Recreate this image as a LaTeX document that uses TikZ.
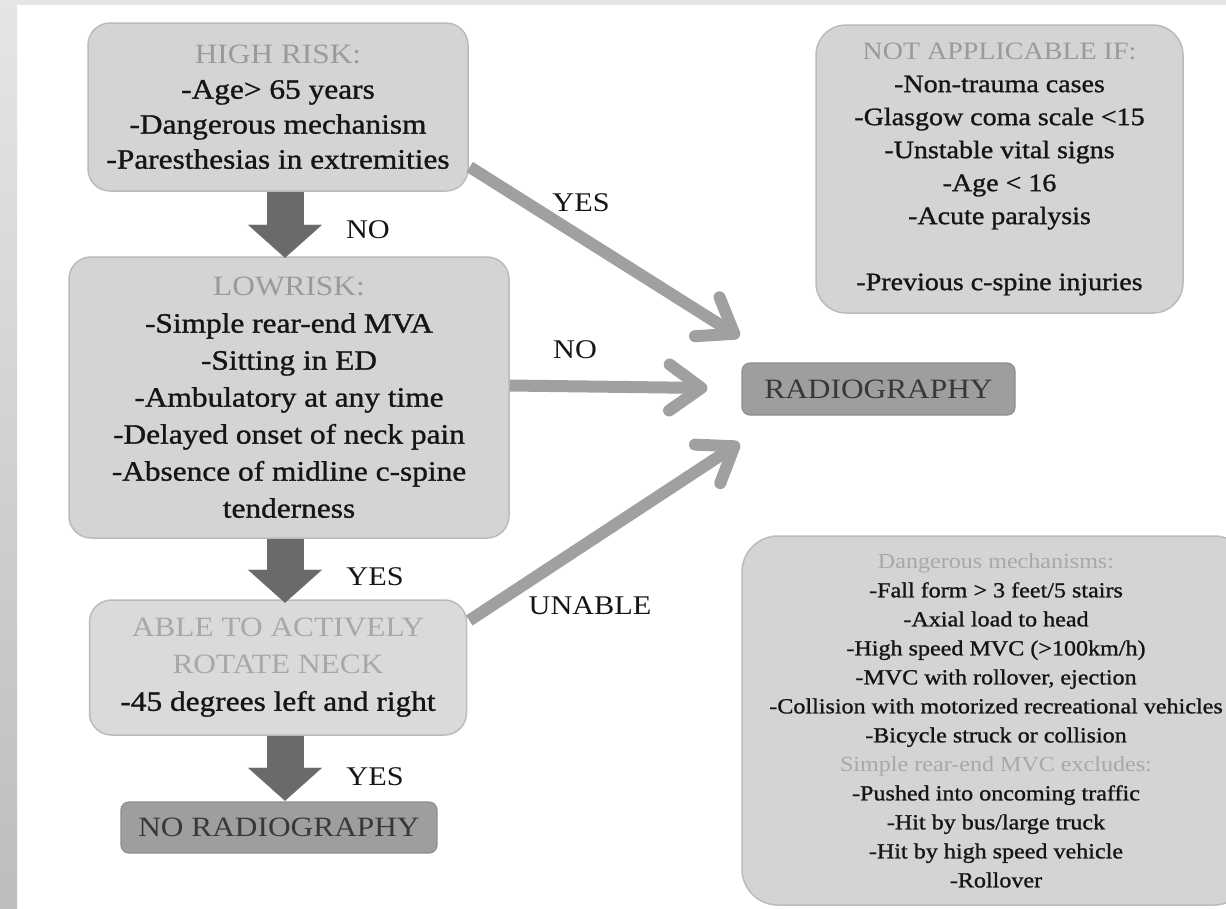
\documentclass[tikz,border=0pt]{standalone}
\usepackage{fontspec}
\setmainfont{Liberation Serif}[FakeStretch=1.12]
\newfontfamily\heavyserif{Liberation Serif}[FakeStretch=1.12,FakeBold=1.1]
\usetikzlibrary{arrows.meta,calc}

\definecolor{framegray}{HTML}{E5E5E5}
\definecolor{framedark}{HTML}{BDBDBD}
\definecolor{boxfill}{HTML}{D4D4D4}
\definecolor{boxfilllight}{HTML}{DADADA}
\definecolor{boxedge}{HTML}{BBBBBB}
\definecolor{endfill}{HTML}{9E9E9E}
\definecolor{endedge}{HTML}{8E8E8E}
\definecolor{titlegray}{HTML}{9A9A9A}
\definecolor{titlelight}{HTML}{A8A8A8}
\definecolor{bodyblack}{HTML}{151515}
\definecolor{arrowdark}{HTML}{6A6A6A}
\definecolor{arrowgray}{HTML}{A0A0A0}

\newcommand\boxtitle[2]{{\rmfamily\color{#1}#2}}

\tikzset{
  infobox/.style={draw=boxedge, line width=1.5pt, fill=boxfill, rounded corners=22pt,
    align=center, text=bodyblack, inner sep=0pt},
  endbox/.style={draw=endedge, line width=1.2pt, fill=endfill, rounded corners=8pt,
    align=center, text=bodyblack!85, inner sep=0pt, font=\fontsize{28}{34}\selectfont},
  answer/.style={text=bodyblack, inner sep=0pt, font=\fontsize{27}{32}\selectfont},
  bigarrow/.style={draw=arrowdark, line width=37pt,
    -{Triangle[length=33pt,width=74pt,line width=0.1pt]}},
  thinarrow/.style={draw=arrowgray, line width=12pt,
    -{Straight Barb[length=32pt,width=46pt,round]}}
}

\begin{document}
\begin{tikzpicture}[x=1pt,y=-1pt]
\useasboundingbox (0,0) rectangle (1226,908);
% page frame
\fill[white] (0,0) rectangle (1226,908);
\fill[framegray] (0,0) rectangle (1226,5);
\shade[top color=framegray, bottom color=framedark] (0,0) rectangle (17,908);

\begin{scope}
\clip (0,0) rectangle (1226,908);

% decision boxes on the left
\node[infobox, minimum width=380pt, minimum height=168pt,
      font=\heavyserif\fontsize{28}{35}\selectfont] (hr) at (278,107)
  {\boxtitle{titlegray}{HIGH RISK:}\\-Age> 65 years\\-Dangerous mechanism\\-Paresthesias in extremities};

\node[infobox, minimum width=440pt, minimum height=281pt,
      font=\heavyserif\fontsize{28}{37}\selectfont] (lr) at (289,397.5)
  {\boxtitle{titlegray}{LOWRISK:}\\-Simple rear-end MVA\\-Sitting in ED\\-Ambulatory at any time\\-Delayed onset of neck pain\\-Absence of midline c-spine\\tenderness};

\node[infobox, fill=boxfilllight, minimum width=377pt, minimum height=135pt,
      font=\heavyserif\fontsize{28}{37}\selectfont] (ab) at (278,667.5)
  {\boxtitle{titlelight}{ABLE TO ACTIVELY}\\\boxtitle{titlelight}{ROTATE NECK}\\-45 degrees left and right};

\node[endbox, minimum width=316pt, minimum height=51pt] (nr) at (279,827.5) {NO RADIOGRAPHY};

% outcome on the right
\node[endbox, minimum width=273pt, minimum height=52pt] (rad) at (878.5,389) {RADIOGRAPHY};

% side notes
\node[infobox, rounded corners=30pt, minimum width=367pt, minimum height=288pt,
      font=\heavyserif\fontsize{25}{33}\selectfont] (na) at (999.5,169)
  {\boxtitle{titlegray}{NOT APPLICABLE IF:}\\-Non-trauma cases\\-Glasgow coma scale <15\\-Unstable vital signs\\-Age < 16\\-Acute paralysis\\[33pt]-Previous c-spine injuries};

\node[infobox, rounded corners=36pt, minimum width=508pt, minimum height=369pt,
      font=\heavyserif\fontsize{21.5}{29}\selectfont] (dm) at (996,720.5)
  {\boxtitle{titlelight}{Dangerous mechanisms:}\\-Fall form > 3 feet/5 stairs\\-Axial load to head\\-High speed MVC (>100km/h)\\-MVC with rollover, ejection\\-Collision with motorized recreational vehicles\\-Bicycle struck or collision\\\boxtitle{titlelight}{Simple rear-end MVC excludes:}\\-Pushed into oncoming traffic\\-Hit by bus/large truck\\-Hit by high speed vehicle\\-Rollover};
\end{scope}

% downward flow
\draw[bigarrow] ($(hr.south)+(7,0)$) -- ($(hr.south)+(7,66)$) coordinate (t1);
\draw[bigarrow] ($(lr.south)+(-4,0)$) -- ($(lr.south)+(-4,64)$) coordinate (t2);
\draw[bigarrow] ($(ab.south)+(7,0)$) -- ($(ab.south)+(7,65)$) coordinate (t3);

\node[answer] (no1) at (368,230) {NO};
\node[answer] (yes1) at (375,577) {YES};
\node[answer] (yes2) at (375,777) {YES};

% branches to radiography
\coordinate (sYes) at ($(hr.east)+(1,60)$);
\coordinate (eYes) at ($(rad.west)+(-2,-52)$);
\coordinate (sNo) at ($(lr.east)+(0,-12)$);
\coordinate (eNo) at ($(rad.west)+(-34,-1)$);
\coordinate (sUn) at ($(ab.east)+(2,-47)$);
\coordinate (eUn) at ($(rad.west)+(-2,54)$);

\draw[thinarrow] (sYes) -- (eYes);
\draw[thinarrow] (sNo) -- (eNo);
\draw[thinarrow] (sUn) -- (eUn);

\node[answer] (yes3) at (581,203) {YES};
\node[answer] (no2) at (575,350) {NO};
\node[answer] (un) at (590,606) {UNABLE};
\end{tikzpicture}
\end{document}
